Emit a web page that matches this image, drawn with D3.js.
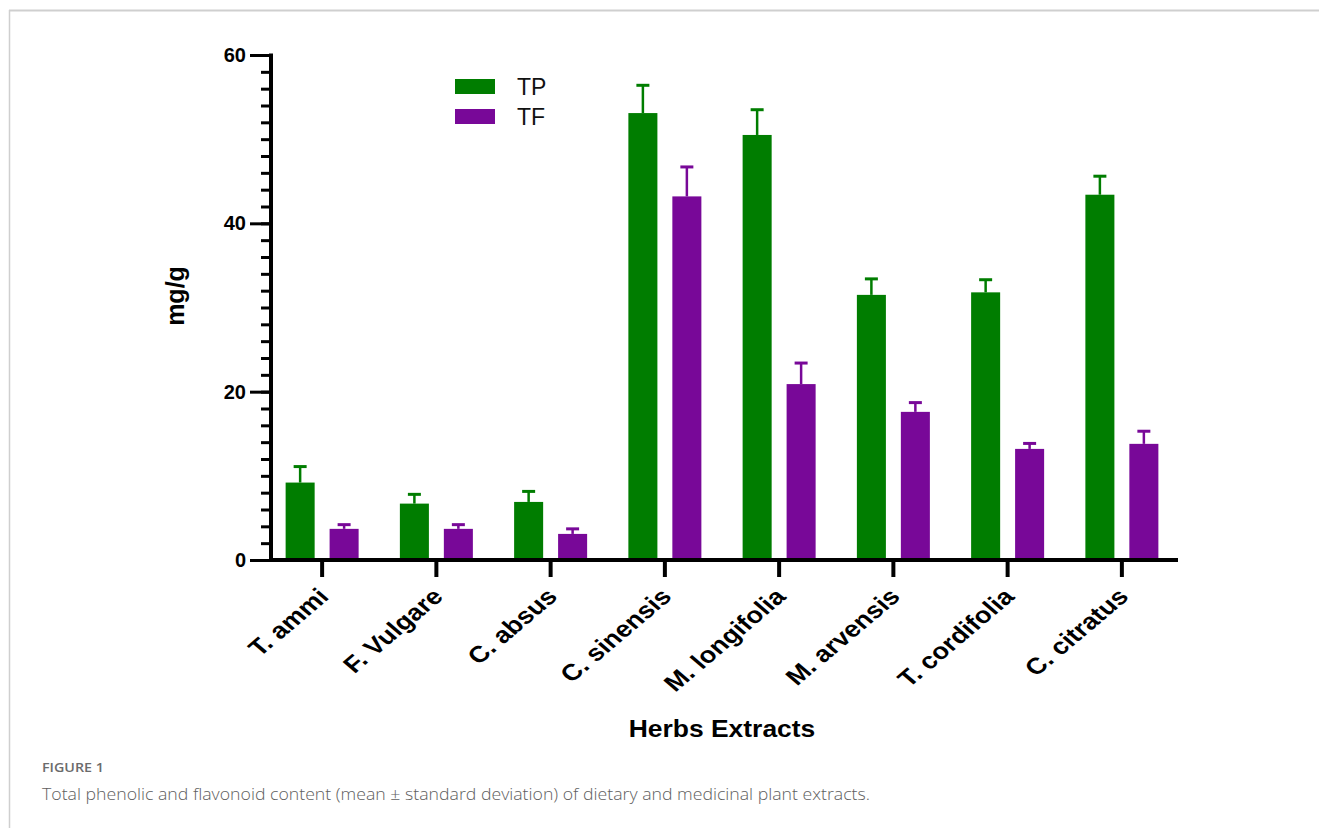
<!DOCTYPE html>
<html>
<head>
<meta charset="utf-8">
<script src="https://cdn.jsdelivr.net/npm/d3@7"></script>
<style>
  html, body { margin: 0; padding: 0; background: #fff; }
  svg { display: block; }
</style>
</head>
<body>
<svg id="chart" width="1319" height="828"></svg>
<script>
// Herb extracts and their measured contents (mg/g), mean and standard deviation
const herbs = ["T. ammi", "F. Vulgare", "C. absus", "C. sinensis", "M. longifolia", "M. arvensis", "T. cordifolia", "C. citratus"];
const seriesNames = ["TP", "TF"];
const tpMean = [9.2, 6.7, 6.9, 53.1, 50.5, 31.5, 31.8, 43.4];
const tpSd   = [1.9, 1.1, 1.25, 3.3, 3.0, 1.9, 1.5, 2.2];
const tfMean = [3.7, 3.7, 3.1, 43.2, 20.9, 17.6, 13.2, 13.8];
const tfSd   = [0.5, 0.5, 0.6, 3.5, 2.5, 1.1, 0.65, 1.5];
const yTicks = [0, 20, 40, 60];

const colors = { TP: "#007d00", TF: "#780898" };
const FONT = "Liberation Sans, Arial, sans-serif";

const svg = d3.select("#chart");

// panel frame: top rule and left rule
svg.append("line").attr("x1", 9).attr("x2", 1319).attr("y1", 10.5).attr("y2", 10.5)
  .attr("stroke", "#cfcfcf").attr("stroke-width", 2);
svg.append("line").attr("x1", 9.5).attr("x2", 9.5).attr("y1", 10).attr("y2", 828)
  .attr("stroke", "#cfcfcf").attr("stroke-width", 1.5);

const x = d3.scaleBand().domain(herbs).range([265, 1179]);
const xs = d3.scaleBand().domain(seriesNames).range([-36.5, 36.5]).paddingInner(0.34).paddingOuter(0);
const y = d3.scaleLinear().domain([0, 60]).range([560, 55]);

const rows = herbs.map((h, i) => ({
  herb: h,
  values: [
    { key: "TP", mean: tpMean[i], sd: tpSd[i] },
    { key: "TF", mean: tfMean[i], sd: tfSd[i] }
  ]
}));

const groups = svg.append("g").selectAll("g").data(rows).join("g")
  .attr("transform", d => `translate(${x(d.herb) + x.bandwidth() / 2},0)`);

// error bars (upper whisker only)
groups.selectAll("g.err").data(d => d.values).join("g").attr("class", "err")
  .each(function (d) {
    const g = d3.select(this);
    const cx = xs(d.key) + xs.bandwidth() / 2;
    g.append("line").attr("x1", cx).attr("x2", cx)
      .attr("y1", y(d.mean)).attr("y2", y(d.mean + d.sd))
      .attr("stroke", colors[d.key]).attr("stroke-width", 2.5);
    g.append("line").attr("x1", cx - 6.5).attr("x2", cx + 6.5)
      .attr("y1", y(d.mean + d.sd)).attr("y2", y(d.mean + d.sd))
      .attr("stroke", colors[d.key]).attr("stroke-width", 3);
  });

groups.selectAll("rect").data(d => d.values).join("rect")
  .attr("x", d => xs(d.key))
  .attr("width", xs.bandwidth())
  .attr("y", d => y(d.mean))
  .attr("height", d => y(0) - y(d.mean))
  .attr("fill", d => colors[d.key]);

// y axis: major ticks every 20, minor every 2
const yAxisX = 271;
const yAxis = svg.append("g").attr("transform", `translate(${yAxisX},0)`);
yAxis.call(d3.axisLeft(y).tickValues(d3.range(0, 61, 2)).tickSize(10).tickFormat(""))
  .call(g => g.selectAll(".tick line").attr("stroke", "#000").attr("stroke-width", 3))
  .call(g => g.select(".domain").remove());
yAxis.append("g")
  .call(d3.axisLeft(y).tickValues(yTicks).tickSize(21).tickPadding(4))
  .call(g => g.selectAll(".tick line").attr("stroke", "#000").attr("stroke-width", 3))
  .call(g => g.select(".domain").remove())
  .call(g => g.selectAll(".tick text")
    .attr("fill", "#000").attr("font-family", FONT)
    .attr("font-weight", "bold").attr("font-size", 20));
svg.append("line").attr("x1", yAxisX).attr("x2", yAxisX).attr("y1", y(60) - 1.5).attr("y2", y(0) + 1.5)
  .attr("stroke", "#000").attr("stroke-width", 4);

// x axis
const xAxis = svg.append("g").attr("transform", `translate(0,${y(0)})`);
xAxis.call(d3.axisBottom(x).tickSize(17))
  .call(g => g.select(".domain").remove())
  .call(g => g.selectAll(".tick line").attr("stroke", "#000").attr("stroke-width", 4))
  .call(g => g.selectAll(".tick text")
    .attr("fill", "#000").attr("font-family", FONT)
    .attr("font-weight", "bold").attr("font-size", 23)
    .attr("text-anchor", "end")
    .attr("x", 0).attr("y", 0).attr("dy", 0)
    .attr("transform", "translate(8,38) scale(1.18,1) rotate(-45)"));
svg.append("line").attr("x1", yAxisX).attr("x2", 1178).attr("y1", y(0)).attr("y2", y(0))
  .attr("stroke", "#000").attr("stroke-width", 4);

// axis titles
svg.append("text").attr("transform", "translate(184,296) rotate(-90)")
  .attr("text-anchor", "middle").attr("font-family", FONT)
  .attr("font-weight", "bold").attr("font-size", 25).text("mg/g");
svg.append("text").attr("transform", "translate(722,737) scale(1.15,1)")
  .attr("text-anchor", "middle").attr("font-family", FONT)
  .attr("font-weight", "bold").attr("font-size", 23).text("Herbs Extracts");

// legend
const legend = svg.append("g").selectAll("g").data(seriesNames).join("g")
  .attr("transform", (d, i) => `translate(455,${79 + i * 30})`);
legend.append("rect").attr("width", 40).attr("height", 15).attr("fill", d => colors[d]);
legend.append("text").attr("x", 62).attr("y", 8).attr("dy", "0.35em")
  .attr("font-family", FONT).attr("font-size", 23)
  .attr("fill", "#111").text(d => d);

// caption
svg.append("text").attr("x", 42).attr("y", 772)
  .attr("font-family", "Open Sans, Lato, sans-serif").attr("font-size", 12.5).attr("font-weight", 600)
  .attr("fill", "#6b6b6b").attr("textLength", 62).attr("lengthAdjust", "spacingAndGlyphs")
  .text("FIGURE 1");
svg.append("text").attr("x", 42).attr("y", 800)
  .attr("font-family", "Open Sans, Lato, sans-serif").attr("font-size", 16.5).attr("font-weight", 300)
  .attr("fill", "#5e5e5e").attr("textLength", 828).attr("lengthAdjust", "spacingAndGlyphs")
  .text("Total phenolic and flavonoid content (mean \u00b1 standard deviation) of dietary and medicinal plant extracts.");
</script>
</body>
</html>
